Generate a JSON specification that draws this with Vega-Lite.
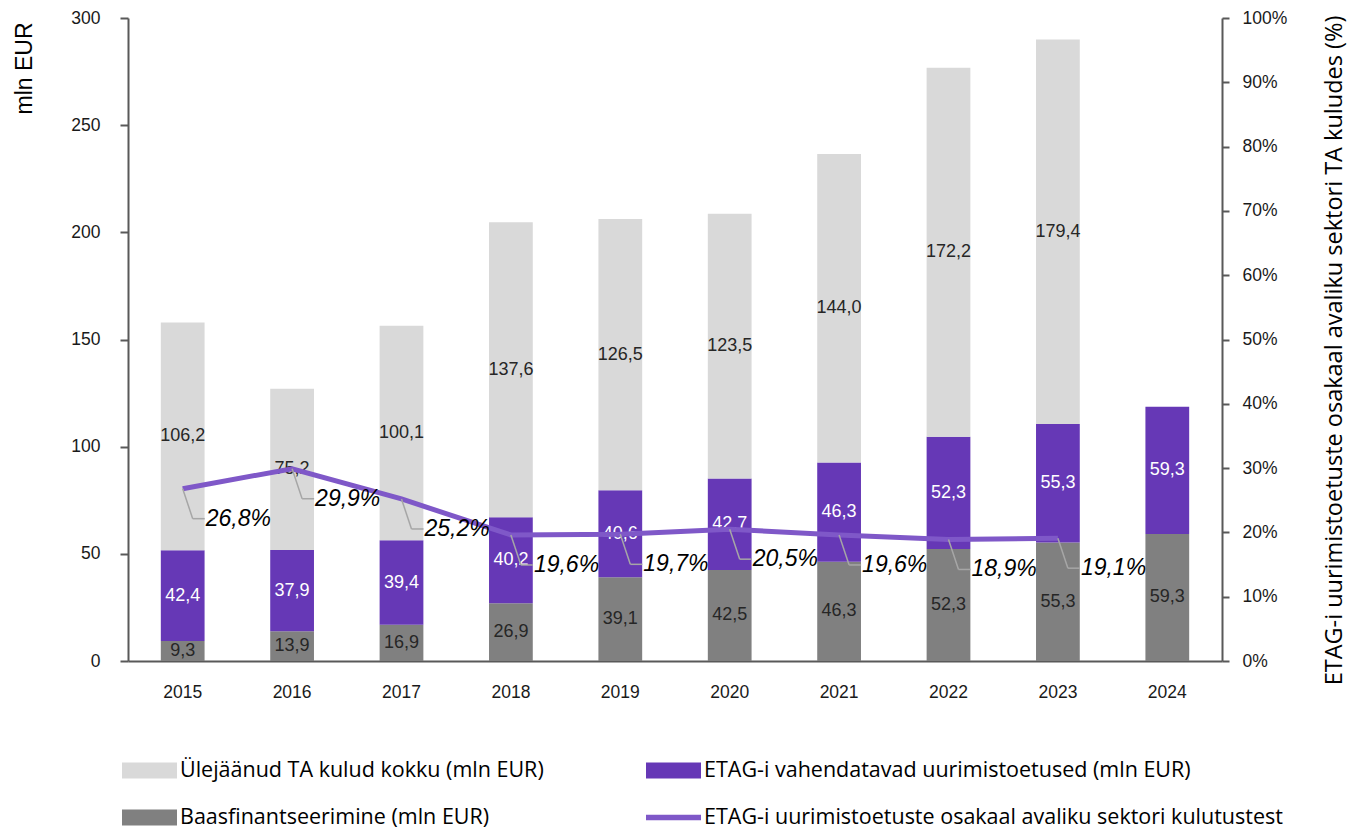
{
  "$schema": "https://vega.github.io/schema/vega-lite/v6.json",
  "width": 1094,
  "height": 643,
  "autosize": {"type": "none"},
  "padding": {"left": 128, "top": 18, "right": 138, "bottom": 168},
  "background": "white",
  "config": {
    "locale": {"number": {"decimal": ",", "thousands": " ", "grouping": [3], "currency": ["", " €"]}},
    "view": {"stroke": null},
    "font": "Liberation Sans",
    "axis": {"grid": false, "domainColor": "#595959", "domainWidth": 2, "tickColor": "#595959", "tickWidth": 2, "labelColor": "#1a1a1a", "labelFont": "Liberation Sans", "titleColor": "#000000", "titleFontWeight": "normal"}
  },
  "datasets": {
    "bars": [
      {"year": "2015", "series": "Baasfinantseerimine (mln EUR)", "order": 1, "value": 9.3},
      {"year": "2015", "series": "ETAG-i vahendatavad uurimistoetused (mln EUR)", "order": 2, "value": 42.4},
      {"year": "2015", "series": "Ülejäänud TA kulud kokku (mln EUR)", "order": 3, "value": 106.2},
      {"year": "2016", "series": "Baasfinantseerimine (mln EUR)", "order": 1, "value": 13.9},
      {"year": "2016", "series": "ETAG-i vahendatavad uurimistoetused (mln EUR)", "order": 2, "value": 37.9},
      {"year": "2016", "series": "Ülejäänud TA kulud kokku (mln EUR)", "order": 3, "value": 75.2},
      {"year": "2017", "series": "Baasfinantseerimine (mln EUR)", "order": 1, "value": 16.9},
      {"year": "2017", "series": "ETAG-i vahendatavad uurimistoetused (mln EUR)", "order": 2, "value": 39.4},
      {"year": "2017", "series": "Ülejäänud TA kulud kokku (mln EUR)", "order": 3, "value": 100.1},
      {"year": "2018", "series": "Baasfinantseerimine (mln EUR)", "order": 1, "value": 26.9},
      {"year": "2018", "series": "ETAG-i vahendatavad uurimistoetused (mln EUR)", "order": 2, "value": 40.2},
      {"year": "2018", "series": "Ülejäänud TA kulud kokku (mln EUR)", "order": 3, "value": 137.6},
      {"year": "2019", "series": "Baasfinantseerimine (mln EUR)", "order": 1, "value": 39.1},
      {"year": "2019", "series": "ETAG-i vahendatavad uurimistoetused (mln EUR)", "order": 2, "value": 40.6},
      {"year": "2019", "series": "Ülejäänud TA kulud kokku (mln EUR)", "order": 3, "value": 126.5},
      {"year": "2020", "series": "Baasfinantseerimine (mln EUR)", "order": 1, "value": 42.5},
      {"year": "2020", "series": "ETAG-i vahendatavad uurimistoetused (mln EUR)", "order": 2, "value": 42.7},
      {"year": "2020", "series": "Ülejäänud TA kulud kokku (mln EUR)", "order": 3, "value": 123.5},
      {"year": "2021", "series": "Baasfinantseerimine (mln EUR)", "order": 1, "value": 46.3},
      {"year": "2021", "series": "ETAG-i vahendatavad uurimistoetused (mln EUR)", "order": 2, "value": 46.3},
      {"year": "2021", "series": "Ülejäänud TA kulud kokku (mln EUR)", "order": 3, "value": 144.0},
      {"year": "2022", "series": "Baasfinantseerimine (mln EUR)", "order": 1, "value": 52.3},
      {"year": "2022", "series": "ETAG-i vahendatavad uurimistoetused (mln EUR)", "order": 2, "value": 52.3},
      {"year": "2022", "series": "Ülejäänud TA kulud kokku (mln EUR)", "order": 3, "value": 172.2},
      {"year": "2023", "series": "Baasfinantseerimine (mln EUR)", "order": 1, "value": 55.3},
      {"year": "2023", "series": "ETAG-i vahendatavad uurimistoetused (mln EUR)", "order": 2, "value": 55.3},
      {"year": "2023", "series": "Ülejäänud TA kulud kokku (mln EUR)", "order": 3, "value": 179.4},
      {"year": "2024", "series": "Baasfinantseerimine (mln EUR)", "order": 1, "value": 59.3},
      {"year": "2024", "series": "ETAG-i vahendatavad uurimistoetused (mln EUR)", "order": 2, "value": 59.3}
    ],
    "share": [
      {"year": "2015", "share": 0.268},
      {"year": "2016", "share": 0.299},
      {"year": "2017", "share": 0.252},
      {"year": "2018", "share": 0.196},
      {"year": "2019", "share": 0.197},
      {"year": "2020", "share": 0.205},
      {"year": "2021", "share": 0.196},
      {"year": "2022", "share": 0.189},
      {"year": "2023", "share": 0.191}
    ]
  },
  "layer": [
    {
      "data": {"name": "bars"},
      "layer": [
        {
          "mark": {"type": "bar"},
          "encoding": {
            "x": {"field": "year", "type": "ordinal", "scale": {"paddingInner": 0.6, "paddingOuter": 0.3},
                  "axis": {"title": null, "labelAngle": 0, "ticks": false, "labelFontSize": 17.5, "labelPadding": 22, "domainColor": "#595959"}},
            "y": {"field": "value", "type": "quantitative", "stack": "zero", "scale": {"domain": [0, 300], "nice": false},
                  "axis": {"title": "mln EUR", "values": [0, 50, 100, 150, 200, 250, 300], "tickSize": 8, "labelPadding": 20, "labelFontSize": 17.5,
                           "titleFont": "Liberation Sans", "titleFontSize": 23, "titleAngle": -90, "titleX": -104, "titleY": 4, "titleAlign": "right", "titleBaseline": "middle"}},
            "color": {"field": "series", "type": "nominal",
                      "scale": {"domain": ["Ülejäänud TA kulud kokku (mln EUR)", "ETAG-i vahendatavad uurimistoetused (mln EUR)", "Baasfinantseerimine (mln EUR)", "ETAG-i uurimistoetuste osakaal avaliku sektori kulutustest"],
                                "range": ["#d9d9d9", "#6638b6", "#808080", "#7f58c8"]},
                      "legend": {"title": null, "orient": "none", "legendX": -6, "legendY": 725, "columns": 2, "direction": "horizontal",
                                 "columnPadding": 102, "rowPadding": 9, "labelFont": "Open Sans", "labelFontSize": 21.5, "labelColor": "#000000", "labelLimit": 700,
                                 "symbolType": "M-1,-0.29H1V0.29H-1Z", "symbolSize": 3025, "symbolStrokeWidth": 0, "labelOffset": 3, "symbolOpacity": 1,
                                 "encoding": {"symbols": {"shape": {"condition": {"test": "datum.value === 'ETAG-i uurimistoetuste osakaal avaliku sektori kulutustest'", "value": "M-1,-0.1H1V0.1H-1Z"}, "value": "M-1,-0.29H1V0.29H-1Z"}}}}},
            "order": {"field": "order", "type": "quantitative"}
          }
        },
        {
          "mark": {"type": "text", "fontSize": 18, "font": "Liberation Sans", "baseline": "middle"},
          "encoding": {
            "x": {"field": "year", "type": "ordinal"},
            "y": {"field": "value", "type": "quantitative", "stack": "zero", "bandPosition": 0.5},
            "detail": {"field": "series"},
            "order": {"field": "order", "type": "quantitative"},
            "text": {"field": "value", "type": "quantitative", "format": ".1f"},
            "color": {"condition": {"test": "datum.series === 'ETAG-i vahendatavad uurimistoetused (mln EUR)'", "value": "#ffffff"}, "value": "#262626"}
          }
        }
      ]
    },
    {
      "data": {"name": "share"},
      "layer": [
        {
          "mark": {"type": "line", "color": "#7f58c8", "strokeWidth": 5},
          "encoding": {
            "x": {"field": "year", "type": "ordinal"},
            "y": {"field": "share", "type": "quantitative", "scale": {"domain": [0, 1], "nice": false},
                  "axis": {"orient": "right", "format": ".0%", "values": [0, 0.1, 0.2, 0.3, 0.4, 0.5, 0.6, 0.7, 0.8, 0.9, 1], "tickSize": 7, "labelPadding": 13, "labelFontSize": 17.5,
                           "title": "ETAG-i uurimistoetuste osakaal avaliku sektori TA kuludes (%)", "titleFont": "Open Sans", "titleFontSize": 23.5,
                           "titleAngle": -90, "titleX": 112, "titleY": 332, "titleAlign": "center", "titleBaseline": "middle"}}
          }
        },
        {
          "mark": {"type": "rule", "color": "#a6a6a6", "strokeWidth": 1.5, "x2Offset": 10, "y2Offset": 30},
          "encoding": {
            "x": {"field": "year", "type": "ordinal"},
            "x2": {"field": "year"},
            "y": {"field": "share", "type": "quantitative"},
            "y2": {"field": "share"}
          }
        },
        {
          "mark": {"type": "rule", "color": "#a6a6a6", "strokeWidth": 1.5, "xOffset": 10, "yOffset": 30, "x2Offset": 22, "y2Offset": 30},
          "encoding": {
            "x": {"field": "year", "type": "ordinal"},
            "x2": {"field": "year"},
            "y": {"field": "share", "type": "quantitative"},
            "y2": {"field": "share"}
          }
        },
        {
          "mark": {"type": "text", "fontSize": 23, "fontStyle": "italic", "font": "Liberation Sans", "align": "left", "baseline": "middle", "dx": 23, "dy": 30, "color": "#000000"},
          "encoding": {
            "x": {"field": "year", "type": "ordinal"},
            "y": {"field": "share", "type": "quantitative"},
            "text": {"field": "share", "type": "quantitative", "format": ".1%"}
          }
        }
      ]
    }
  ],
  "resolve": {"scale": {"y": "independent"}}
}
